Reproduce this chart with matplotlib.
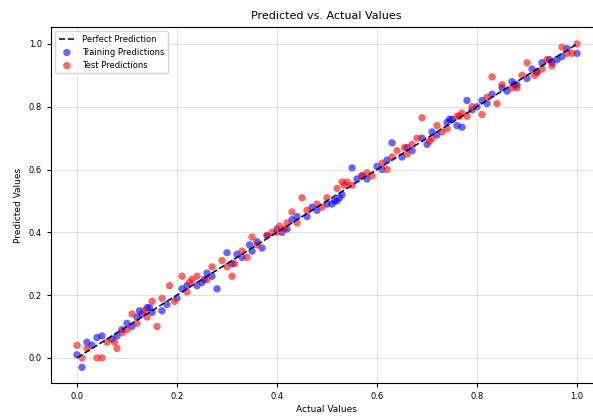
import matplotlib
matplotlib.use("Agg")
import matplotlib.pyplot as plt

# actual vs predicted values
train_actual = [0.00, 0.01, 0.02, 0.03, 0.04, 0.05, 0.07, 0.08, 0.09, 0.10,
                0.11, 0.12, 0.13, 0.14, 0.15, 0.17, 0.18, 0.20, 0.21, 0.22,
                0.24, 0.25, 0.26, 0.27, 0.28, 0.30, 0.31, 0.32, 0.33, 0.35,
                0.36, 0.37, 0.38, 0.40, 0.41, 0.42, 0.43, 0.44, 0.46, 0.47,
                0.48, 0.50, 0.51, 0.52, 0.53, 0.55, 0.56, 0.57, 0.58, 0.60,
                0.61, 0.62, 0.63, 0.65, 0.66, 0.67, 0.69, 0.70, 0.71, 0.72,
                0.74, 0.75, 0.76, 0.77, 0.78, 0.80, 0.81, 0.82, 0.83, 0.85,
                0.86, 0.87, 0.88, 0.90, 0.91, 0.92, 0.93, 0.95, 0.96, 0.97,
                0.98, 1.00, 0.125, 0.145, 0.255, 0.345, 0.515, 0.525, 0.745,
                0.79, 0.875, 0.945]
train_pred = [0.01, -0.03, 0.05, 0.04, 0.065, 0.07, 0.06, 0.07, 0.09, 0.11,
              0.10, 0.13, 0.14, 0.16, 0.145, 0.15, 0.17, 0.19, 0.22, 0.23,
              0.23, 0.24, 0.27, 0.26, 0.22, 0.335, 0.30, 0.33, 0.32, 0.34,
              0.37, 0.35, 0.39, 0.41, 0.40, 0.41, 0.44, 0.45, 0.45, 0.48,
              0.47, 0.49, 0.49, 0.50, 0.52, 0.605, 0.57, 0.58, 0.57, 0.61,
              0.60, 0.63, 0.685, 0.64, 0.67, 0.66, 0.70, 0.68, 0.72, 0.71,
              0.75, 0.76, 0.74, 0.735, 0.82, 0.80, 0.82, 0.81, 0.84, 0.86,
              0.85, 0.88, 0.87, 0.89, 0.92, 0.91, 0.94, 0.94, 0.95, 0.96,
              0.985, 0.97, 0.15, 0.16, 0.25, 0.36, 0.50, 0.51, 0.76,
              0.79, 0.87, 0.95]

test_actual = [0.00, 0.01, 0.02, 0.04, 0.05, 0.06, 0.08, 0.09, 0.10, 0.11,
               0.12, 0.14, 0.15, 0.16, 0.17, 0.185, 0.195, 0.21, 0.22, 0.23,
               0.24, 0.26, 0.27, 0.29, 0.30, 0.31, 0.33, 0.34, 0.35, 0.36,
               0.38, 0.39, 0.40, 0.42, 0.43, 0.44, 0.45, 0.46, 0.48, 0.49,
               0.50, 0.52, 0.53, 0.54, 0.55, 0.57, 0.58, 0.59, 0.61, 0.62,
               0.63, 0.64, 0.66, 0.67, 0.68, 0.69, 0.71, 0.72, 0.73, 0.74,
               0.76, 0.77, 0.78, 0.79, 0.81, 0.82, 0.83, 0.84, 0.85, 0.87,
               0.88, 0.89, 0.90, 0.92, 0.93, 0.94, 0.95, 0.97, 0.98, 0.99,
               1.00, 0.075, 0.135, 0.225, 0.315, 0.405, 0.415, 0.535, 0.655,
               0.705, 0.765, 0.915]
test_pred = [0.04, 0.00, 0.03, 0.00, 0.00, 0.05, 0.03, 0.08, 0.09, 0.14,
             0.11, 0.13, 0.18, 0.10, 0.19, 0.23, 0.18, 0.26, 0.21, 0.25,
             0.26, 0.25, 0.29, 0.31, 0.29, 0.26, 0.34, 0.32, 0.385, 0.36,
             0.39, 0.40, 0.40, 0.43, 0.465, 0.43, 0.51, 0.47, 0.49, 0.48,
             0.51, 0.54, 0.56, 0.56, 0.55, 0.58, 0.59, 0.58, 0.62, 0.60,
             0.64, 0.66, 0.65, 0.68, 0.70, 0.765, 0.70, 0.74, 0.72, 0.73,
             0.77, 0.78, 0.77, 0.80, 0.775, 0.83, 0.895, 0.81, 0.87, 0.86,
             0.86, 0.90, 0.94, 0.91, 0.92, 0.95, 0.93, 0.99, 0.97, 0.97,
             1.00, 0.05, 0.15, 0.24, 0.30, 0.42, 0.41, 0.55, 0.67,
             0.69, 0.77, 0.90]

fig = plt.figure(figsize=(5.93, 4.18), dpi=100)
# axes runs off the right edge like the cropped reference
ax = fig.add_axes([51 / 593, 35 / 418, 550 / 593, 356 / 418])

ax.plot([0, 1], [0, 1], '--', color='#101040', lw=1.2, label='Perfect Prediction')
ax.scatter(train_actual, train_pred, color='blue', alpha=0.6, s=28,
           edgecolors='none', label='Training Predictions')
ax.scatter(test_actual, test_pred, color='red', alpha=0.6, s=28,
           edgecolors='none', label='Test Predictions')

ax.set_xlim(-0.052, 1.048)
ax.set_ylim(-0.08, 1.054)
ax.set_title('Predicted vs. Actual Values', fontsize=8)
ax.set_xlabel('Actual Values', fontsize=6.5, labelpad=3)
ax.set_ylabel('Predicted Values', fontsize=6.5)
ax.tick_params(labelsize=6, length=3)
ax.grid(True, alpha=0.35)
ax.legend(loc='upper left', fontsize=6)

fig.savefig('out.png', dpi=100)
